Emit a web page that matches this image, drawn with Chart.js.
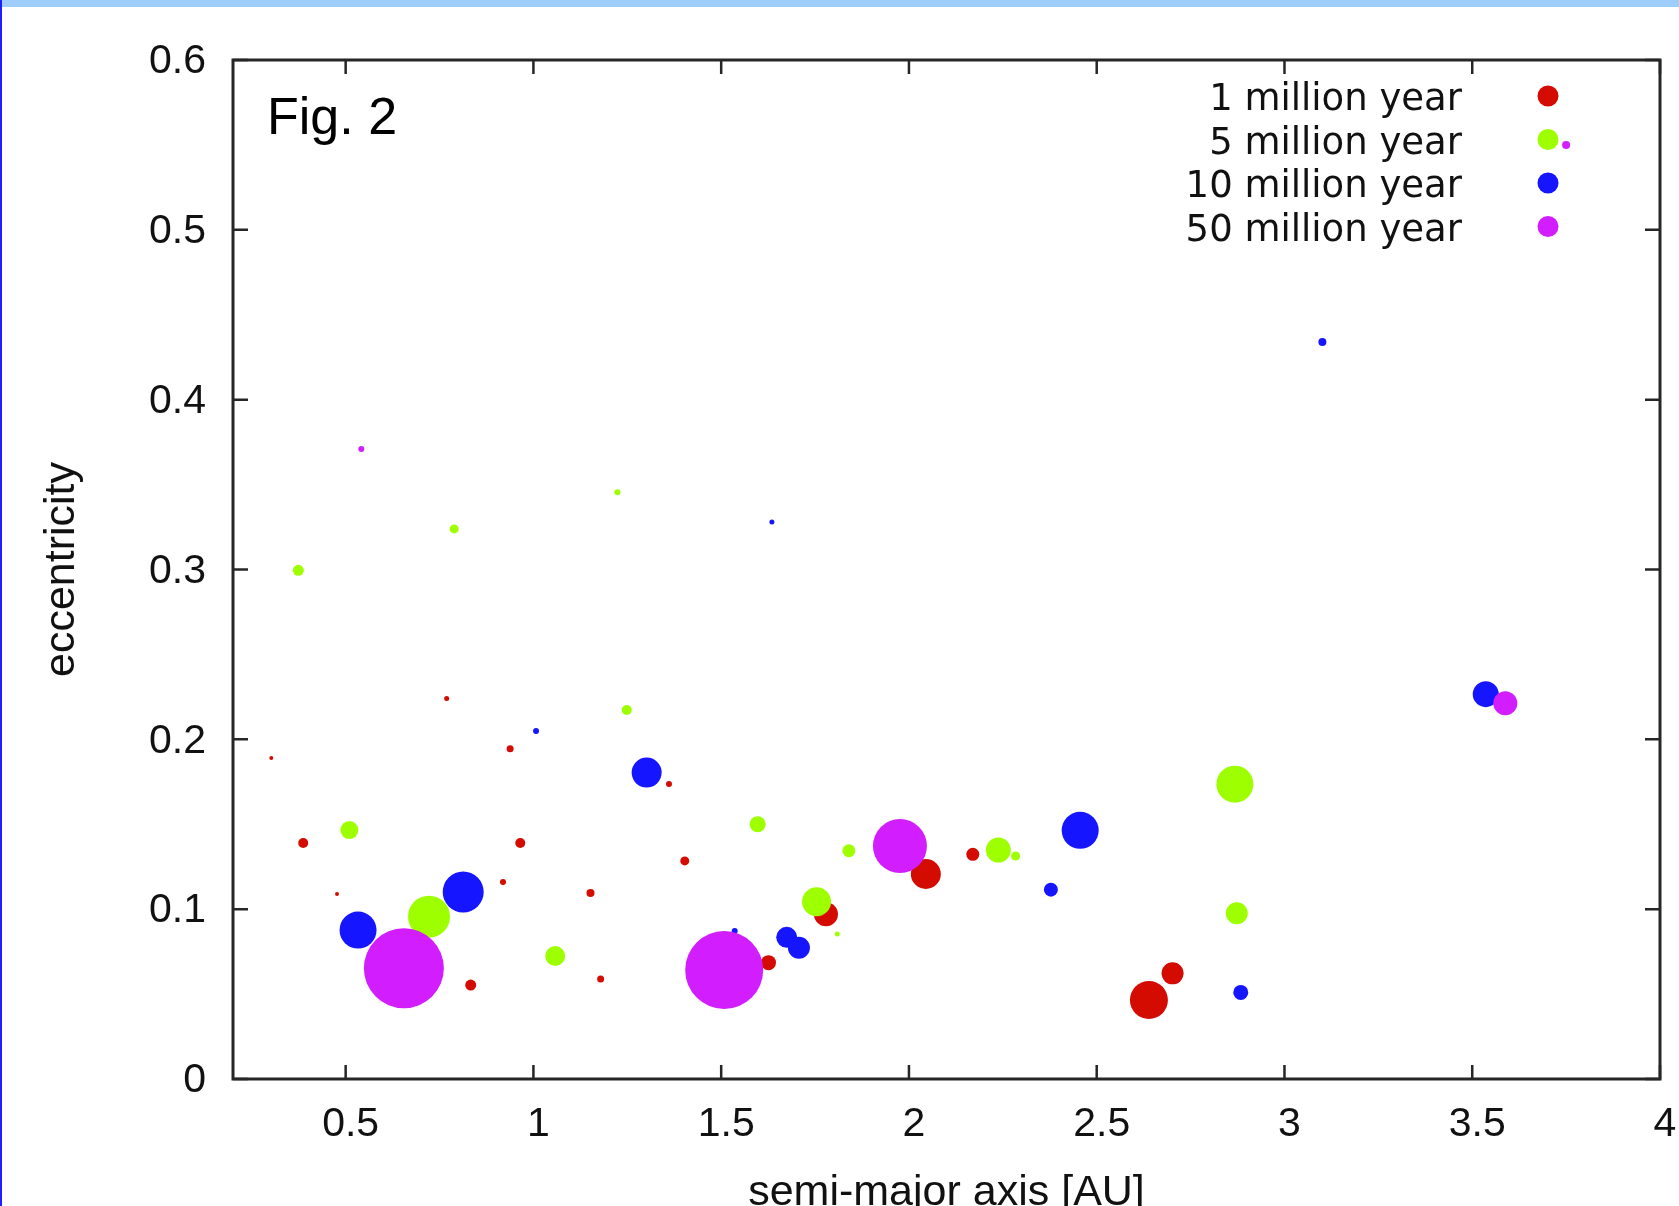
<!DOCTYPE html>
<html>
<head>
<meta charset="utf-8">
<script src="https://cdn.jsdelivr.net/npm/chart.js@4.4.0/dist/chart.umd.min.js"></script>
<style>
  html, body { margin: 0; padding: 0; background: #fff; }
  canvas { display: block; }
</style>
</head>
<body>
<canvas id="orbitChart" width="1679" height="1206"></canvas>
<script>
const seriesLabels = ['1 million year', '5 million year', '10 million year', '50 million year'];
const seriesColors = ['#d40b00', '#9eff00', '#1515ff', '#d21eff'];

// 1 million year
const a1 = [0.302, 0.387, 0.477, 0.769, 0.833, 0.919, 0.938, 0.965, 1.152, 1.179, 1.361, 1.403, 1.626, 1.779, 2.045, 2.170, 2.639, 2.702];
const e1 = [0.189, 0.139, 0.109, 0.224, 0.0553, 0.116, 0.1945, 0.139, 0.1095, 0.0589, 0.1737, 0.1284, 0.0685, 0.097, 0.1207, 0.1323, 0.0465, 0.0622];
const r1 = [2, 5, 2, 2.5, 5.5, 3, 3.5, 5, 4, 3.5, 3, 4.5, 7.5, 12, 15, 6.5, 19, 11];

// 5 million year
const a5 = [0.374, 0.510, 0.722, 0.789, 1.058, 1.2235, 1.2485, 1.597, 1.754, 1.809, 1.840, 2.238, 2.284, 2.868, 2.873];
const e5 = [0.2995, 0.1466, 0.0956, 0.3239, 0.0724, 0.3455, 0.2173, 0.150, 0.1044, 0.0854, 0.1344, 0.1348, 0.1313, 0.1736, 0.0976];
const r5 = [5.5, 9, 21, 4.5, 10, 3, 5, 8, 14.5, 2.5, 6.5, 12.5, 4.5, 18.5, 11];

// 10 million year
const a10 = [0.533, 0.813, 1.007, 1.3015, 1.536, 1.635, 1.6745, 1.707, 2.378, 2.456, 2.8836, 3.101, 3.536];
const e10 = [0.0877, 0.1101, 0.2049, 0.1804, 0.0871, 0.328, 0.0834, 0.0773, 0.1115, 0.1464, 0.051, 0.434, 0.2266];
const r10 = [18.5, 20.5, 3, 15, 3, 2.5, 10.5, 11, 7, 18.5, 7.5, 4, 13];

// 50 million year
const a50 = [0.5417, 0.655, 1.508, 1.976, 3.588, 3.750];
const e50 = [0.371, 0.0652, 0.0642, 0.1372, 0.2212, 0.550];
const r50 = [3, 40, 39, 27, 12, 4];

// ticks
const xTicks = [0.5, 1, 1.5, 2, 2.5, 3, 3.5, 4];
const xTickLabels = ['0.5', '1', '1.5', '2', '2.5', '3', '3.5', '4'];
const yTicks = [0, 0.1, 0.2, 0.3, 0.4, 0.5, 0.6];
const yTickLabels = ['0', '0.1', '0.2', '0.3', '0.4', '0.5', '0.6'];

const tickFont = { family: '"Liberation Sans", Arial, sans-serif', size: 41 };
const titleFont = { family: '"Liberation Sans", Arial, sans-serif', size: 43, lineHeight: 1 };

function toPoints(xs, ys, rs) {
    return xs.map((v, i) => ({ x: v, y: ys[i], r: rs[i] }));
}

const allSeries = [
    toPoints(a1, e1, r1),
    toPoints(a5, e5, r5),
    toPoints(a10, e10, r10),
    toPoints(a50, e50, r50)
];

// --- moldura estilo gnuplot, ticks internos, rotulo e legenda ---
const gnuplotFrame = {
    id: 'gnuplotFrame',
    beforeDraw(chart) {
        const ctx = chart.ctx;
        ctx.save();
        ctx.fillStyle = '#ffffff';
        ctx.fillRect(0, 0, chart.width, chart.height);
        ctx.fillStyle = '#9fcdfb';
        ctx.fillRect(0, 0, chart.width, 7);
        ctx.fillStyle = '#2020ff';
        ctx.fillRect(0, 0, 2, chart.height);
        ctx.restore();
    },
    afterDatasetsDraw(chart) {
        const { ctx, chartArea: area, scales: { x, y } } = chart;
        ctx.save();
        ctx.strokeStyle = '#262626';
        ctx.lineWidth = 3;
        ctx.strokeRect(area.left, area.top, area.right - area.left, area.bottom - area.top);

        ctx.lineWidth = 2.5;
        ctx.beginPath();
        xTicks.forEach(v => {
            const px = x.getPixelForValue(v);
            ctx.moveTo(px, area.bottom); ctx.lineTo(px, area.bottom - 14);
            ctx.moveTo(px, area.top); ctx.lineTo(px, area.top + 14);
        });
        yTicks.forEach(v => {
            const py = y.getPixelForValue(v);
            ctx.moveTo(area.left, py); ctx.lineTo(area.left + 15, py);
            ctx.moveTo(area.right, py); ctx.lineTo(area.right - 15, py);
        });
        ctx.stroke();

        // Fig. 2
        ctx.fillStyle = '#000';
        ctx.font = '52px "Liberation Sans", Arial, sans-serif';
        ctx.textAlign = 'left';
        ctx.textBaseline = 'alphabetic';
        ctx.fillText('Fig. 2', area.left + 34, area.top + 74);

        // legenda (texto a direita, marcador a direita do texto)
        ctx.font = '37px "DejaVu Sans", sans-serif';
        ctx.textAlign = 'right';
        chart.data.datasets.forEach((ds, i) => {
            const rowY = area.top + 36 + i * 43.5;
            ctx.fillStyle = '#111';
            ctx.fillText(ds.label, area.right - 198, rowY + 14);
            ctx.fillStyle = ds.backgroundColor;
            ctx.beginPath();
            ctx.arc(area.right - 112, rowY, 10.5, 0, Math.PI * 2);
            ctx.fill();
        });
        ctx.restore();
    }
};

const orbitCtx = document.getElementById('orbitChart').getContext('2d');
const orbitChart = new Chart(orbitCtx, {
    type: 'bubble',
    data: {
        datasets: allSeries.map((pts, i) => ({
            label: seriesLabels[i],
            data: pts,
            backgroundColor: seriesColors[i],
            borderWidth: 0,
            hoverRadius: 0,
            hoverBorderWidth: 0,
            order: 4 - i
        }))
    },
    options: {
        responsive: false,
        animation: false,
        events: [],
        layout: { autoPadding: false, padding: { left: 0, right: 19, top: 60, bottom: 0 } },
        plugins: {
            legend: { display: false },
            tooltip: { enabled: false }
        },
        scales: {
            x: {
                type: 'linear',
                min: 0.2,
                max: 4,
                grid: { display: false, drawTicks: false },
                border: { display: false },
                afterBuildTicks: scale => { scale.ticks = xTicks.map(v => ({ value: v })); },
                afterFit: scale => {
                    scale.height = 127;
                    scale.paddingLeft = 0;
                    scale.paddingRight = 0;
                },
                ticks: {
                    color: '#111',
                    font: tickFont,
                    padding: 21,
                    labelOffset: 5,
                    maxRotation: 0,
                    autoSkip: false,
                    callback: v => xTickLabels[xTicks.indexOf(v)]
                },
                title: {
                    display: true,
                    text: 'semi-major axis [AU]',
                    color: '#111',
                    font: titleFont,
                    padding: { top: 0, bottom: -9 }
                }
            },
            y: {
                type: 'linear',
                min: 0,
                max: 0.6,
                grid: { display: false, drawTicks: false },
                border: { display: false },
                afterBuildTicks: scale => { scale.ticks = yTicks.map(v => ({ value: v })); },
                afterFit: scale => {
                    scale.width = 233;
                    scale.paddingTop = 0;
                    scale.paddingBottom = 0;
                },
                ticks: {
                    color: '#111',
                    font: tickFont,
                    padding: 27,
                    labelOffset: 2,
                    autoSkip: false,
                    callback: v => yTickLabels[yTicks.indexOf(v)]
                },
                title: {
                    display: true,
                    text: 'eccentricity',
                    color: '#111',
                    font: titleFont,
                    padding: { top: 41, bottom: 0 }
                }
            }
        }
    },
    plugins: [gnuplotFrame]
});
</script>
</body>
</html>
